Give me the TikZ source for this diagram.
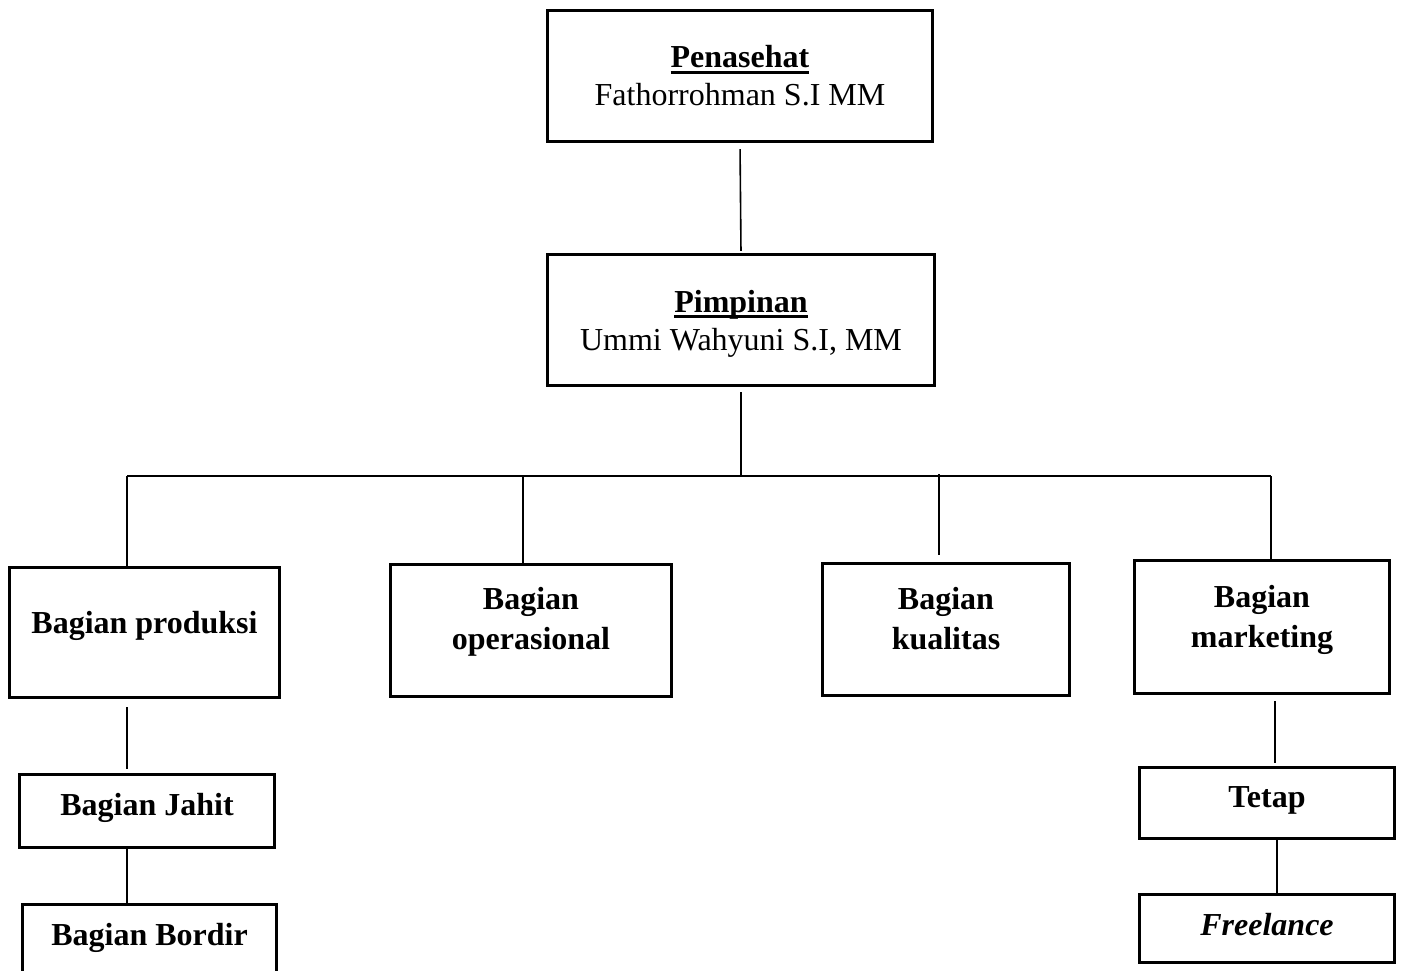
\documentclass[tikz,border=0pt]{standalone}
\usepackage{fontspec}
\setmainfont{Liberation Serif}
\newcommand{\twoline}[2]{\begin{tabular}[t]{@{}c@{}}#1\\#2\end{tabular}}
\newcommand{\thickul}[1]{\leavevmode\vtop{\hbox{#1}\vskip-\lastskip\kern-\prevdepth\kern3pt\hrule height 2.6pt}}
\newcommand{\ulfixed}[1]{\leavevmode\setbox0\hbox{#1}\rlap{\raisebox{-5.6pt}{\rule{\wd0}{2.6pt}}}\box0}
\begin{document}
\begin{tikzpicture}[x=1pt,y=-1pt,
  box/.style={draw, line width=3.4pt, inner sep=0pt, text height=22pt, align=center,
    font=\fontsize{32}{40}\selectfont\bfseries},
  topbox/.style={box, font=\fontsize{32}{38}\selectfont},
  conn/.style={line width=1.6pt}]
\useasboundingbox (0,0) rectangle (1401,971);

\node[topbox, minimum width=385pt, minimum height=131pt, text depth=38pt] (pen) at (740,76)
  {\twoline{\ulfixed{\textbf{Penasehat}}}{Fathorrohman S.I MM}};
\node[topbox, minimum width=387pt, minimum height=131pt, text depth=38pt] (pim) at (741,320)
  {\twoline{\ulfixed{\textbf{Pimpinan}}}{Ummi Wahyuni S.I, MM}};

\node[box, minimum width=270pt, minimum height=130pt, text depth=21pt] (prod) at (144.5,632.5) {Bagian produksi};
\node[box, minimum width=281pt, minimum height=132pt, text depth=65pt] (ops) at (531,630.5) {\twoline{Bagian}{operasional}};
\node[box, minimum width=247pt, minimum height=132pt, text depth=63pt] (kual) at (946,629.5) {\twoline{Bagian}{kualitas}};
\node[box, minimum width=255pt, minimum height=133pt, text depth=62pt] (mark) at (1262,627) {\twoline{Bagian}{marketing}};

\node[box, minimum width=255pt, minimum height=73pt, text depth=14pt] (jahit) at (147,811) {Bagian Jahit};
\node[box, minimum width=254pt, minimum height=73pt, text depth=14pt] (bordir) at (149.5,941) {Bagian Bordir};
\node[box, minimum width=255pt, minimum height=71pt, text depth=14pt] (tetap) at (1267,803) {Tetap};
\node[box, minimum width=255pt, minimum height=68pt, text depth=9pt] (free) at (1267,928.5) {\textit{Freelance}};

\coordinate (bus) at (739,476);
\coordinate (bL) at (127,476);
\coordinate (bO) at (523,476);
\coordinate (bK) at (939,474);
\coordinate (bR) at (1271,476);
\path (mark.south) ++(13,0) coordinate (mk);
\path (tetap.south) ++(10,0) coordinate (tk);

\draw[conn, shorten <=6pt, shorten >=2pt] (pen.south) -- (pim.north);
\draw[conn, shorten <=5pt] (pim.south) -- (pim.south |- bus);
\draw[conn] (bL) -- (bR);
\draw[conn] (bL) -- (bL |- prod.north);
\draw[conn] (bO) -- (bO |- ops.north);
\draw[conn, shorten >=7pt] (bK) -- (bK |- kual.north);
\draw[conn] (bR) -- (bR |- mark.north);
\draw[conn, shorten <=8pt, shorten >=4pt] (prod.south -| bL) -- (jahit.north -| bL);
\draw[conn] (jahit.south -| bL) -- (bordir.north -| bL);
\draw[conn, shorten <=6pt, shorten >=3pt] (mk) -- (mk |- tetap.north);
\draw[conn] (tk) -- (tk |- free.north);
\end{tikzpicture}
\end{document}
